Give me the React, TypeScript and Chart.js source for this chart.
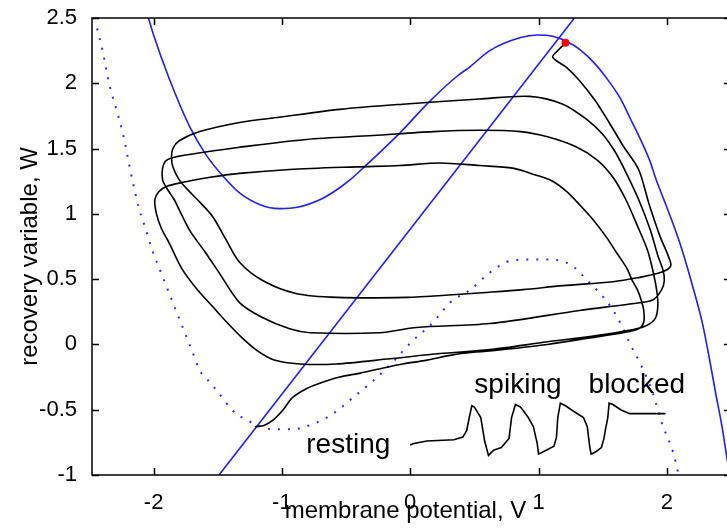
import React, { useEffect, useRef } from 'react';
import { Chart, registerables } from 'chart.js';

Chart.register(...registerables);

// ---- axis ticks ----
const xTicks = [-2, -1, 0, 1, 2];
const xTickLabels = ['-2', '-1', '0', '1', '2'];
const yTicks = [-1, -0.5, 0, 0.5, 1, 1.5, 2, 2.5];
const yTickLabels = ['-1', '-0.5', '0', '0.5', '1', '1.5', '2', '2.5'];

// ---- V-nullcline with stimulus (solid blue cubic), [V, W] ----
const vNullclineStim: [number, number][] = [
  [-2.04, 2.5], [-2.0, 2.37], [-1.88, 2.04], [-1.72, 1.67], [-1.59, 1.45], [-1.46, 1.29],
  [-1.33, 1.16], [-1.17, 1.07], [-1.02, 1.04], [-0.88, 1.05], [-0.68, 1.12], [-0.55, 1.2],
  [-0.47, 1.26], [-0.39, 1.33], [-0.08, 1.62], [0.14, 1.85], [0.36, 2.05], [0.47, 2.13],
  [0.62, 2.25], [0.86, 2.35], [0.99, 2.37], [1.11, 2.36], [1.22, 2.32], [1.32, 2.26],
  [1.43, 2.16], [1.53, 2.04], [1.64, 1.88], [1.71, 1.74], [1.79, 1.58], [1.87, 1.4],
  [1.91, 1.28], [2.0, 1.05], [2.1, 0.78], [2.2, 0.45], [2.28, 0.15], [2.33, -0.1],
  [2.38, -0.37], [2.43, -0.63], [2.47, -0.88], [2.49, -1.0],
];

// ---- W-nullcline (straight blue line) ----
const wNullcline: [number, number][] = [[-1.49, -1.0], [1.28, 2.5]];

// ---- V-nullcline without stimulus (dotted blue cubic) ----
const vNullclineRest: [number, number][] = [
  [-2.44, 2.42], [-2.4, 2.26], [-2.34, 1.97], [-2.29, 1.8], [-2.24, 1.62], [-2.17, 1.28],
  [-2.11, 1.03], [-2.06, 0.88], [-2.01, 0.72], [-1.93, 0.52], [-1.85, 0.32], [-1.74, 0.05],
  [-1.7, -0.05], [-1.64, -0.2], [-1.58, -0.27], [-1.51, -0.35], [-1.38, -0.51], [-1.29, -0.57],
  [-1.07, -0.65], [-0.92, -0.65], [-0.76, -0.61], [-0.6, -0.53], [-0.45, -0.41], [-0.29, -0.28],
  [-0.14, -0.14], [0.01, 0.02], [0.17, 0.16], [0.31, 0.32], [0.47, 0.42], [0.62, 0.55],
  [0.78, 0.64], [0.93, 0.65], [1.09, 0.65], [1.25, 0.61], [1.4, 0.47], [1.54, 0.32],
  [1.64, 0.16], [1.71, 0.01], [1.79, -0.14], [1.89, -0.37], [1.96, -0.6], [2.05, -0.83],
  [2.09, -0.99],
];

// ---- trajectory: resting -> spiking loops -> blocked ----
const trajectory: [number, number][] = [
  [-1.21, -0.63], [-1.14, -0.62], [-1.07, -0.58], [-0.99, -0.5], [-0.92, -0.41], [-0.81, -0.34],
  [-0.71, -0.3], [-0.55, -0.25], [-0.39, -0.22], [-0.21, -0.18], [-0.06, -0.15], [0.13, -0.12],
  [0.33, -0.08], [0.49, -0.06], [0.62, -0.05], [1.07, 0.0], [1.4, 0.05], [1.66, 0.09],
  [1.78, 0.12], [1.82, 0.17],
  [1.82, 0.26], [1.8, 0.34], [1.77, 0.42], [1.73, 0.49], [1.69, 0.58], [1.61, 0.7],
  [1.53, 0.82], [1.43, 0.95], [1.32, 1.07], [1.22, 1.17], [1.11, 1.25], [0.97, 1.3], [0.8, 1.35],
  [0.54, 1.37], [0.23, 1.39], [-0.08, 1.37], [-0.42, 1.36], [-0.94, 1.34], [-1.33, 1.31],
  [-1.56, 1.28], [-1.78, 1.24], [-1.9, 1.21], [-1.96, 1.17],
  [-1.99, 1.11], [-1.98, 1.01], [-1.94, 0.89], [-1.88, 0.78], [-1.78, 0.58], [-1.66, 0.42],
  [-1.54, 0.29], [-1.42, 0.16], [-1.31, 0.05], [-1.19, -0.05], [-1.06, -0.12], [-0.86, -0.15],
  [-0.58, -0.15], [-0.16, -0.11], [0.23, -0.07], [0.62, -0.04], [1.07, 0.02], [1.4, 0.06],
  [1.66, 0.1], [1.83, 0.14], [1.91, 0.2], [1.93, 0.3],
  [1.92, 0.42], [1.89, 0.57], [1.85, 0.72], [1.77, 0.91], [1.68, 1.11], [1.58, 1.28],
  [1.46, 1.41], [1.3, 1.51], [1.07, 1.59], [0.86, 1.63],
  [0.54, 1.64], [0.18, 1.63], [-0.29, 1.6], [-0.81, 1.57], [-1.33, 1.51], [-1.62, 1.47],
  [-1.81, 1.44], [-1.9, 1.41],
  [-1.93, 1.35], [-1.93, 1.26], [-1.9, 1.2], [-1.84, 1.11], [-1.78, 0.99], [-1.71, 0.86],
  [-1.6, 0.71], [-1.49, 0.55], [-1.33, 0.32], [-1.16, 0.21], [-0.94, 0.12], [-0.78, 0.09],
  [-0.24, 0.09], [0.05, 0.13], [0.62, 0.16], [1.32, 0.26], [1.71, 0.31], [1.89, 0.34],
  [1.96, 0.42], [1.98, 0.49],
  [1.97, 0.57], [1.93, 0.68], [1.87, 0.88], [1.78, 1.11], [1.68, 1.32], [1.6, 1.47],
  [1.5, 1.61], [1.38, 1.72], [1.19, 1.84], [0.93, 1.9],
  [0.54, 1.88], [-0.06, 1.84], [-0.55, 1.8], [-1.02, 1.74], [-1.33, 1.7], [-1.64, 1.63],
  [-1.8, 1.56], [-1.85, 1.5],
  [-1.86, 1.43], [-1.85, 1.36], [-1.8, 1.26], [-1.72, 1.17], [-1.64, 1.09], [-1.54, 0.98],
  [-1.44, 0.81], [-1.33, 0.63], [-1.15, 0.49], [-0.89, 0.39], [-0.57, 0.36],
  [-0.03, 0.36], [0.33, 0.38], [0.62, 0.4], [0.88, 0.42], [1.19, 0.45], [1.58, 0.48],
  [1.77, 0.51], [1.95, 0.55], [2.03, 0.6],
  [2.01, 0.68], [1.95, 0.82], [1.86, 1.08], [1.78, 1.34], [1.66, 1.52], [1.55, 1.7],
  [1.44, 1.87], [1.32, 2.02], [1.22, 2.12], [1.11, 2.2], [1.16, 2.26], [1.21, 2.31],
];

// ---- blocked fixed point ----
const blockedPoint: [number, number][] = [[1.21, 2.31]];

// ---- inset voltage trace ----
const insetTrace: [number, number][] = [
  [0.0, -0.77], [0.02, -0.76], [0.13, -0.74], [0.34, -0.73], [0.41, -0.71], [0.44, -0.66],
  [0.46, -0.56], [0.48, -0.47], [0.5, -0.48], [0.55, -0.56], [0.58, -0.74], [0.61, -0.85],
  [0.65, -0.81], [0.71, -0.79], [0.77, -0.72], [0.79, -0.56], [0.82, -0.46], [0.86, -0.48],
  [0.92, -0.56], [0.96, -0.63], [0.99, -0.76], [1.0, -0.84], [1.06, -0.81], [1.12, -0.78],
  [1.14, -0.71], [1.15, -0.56], [1.17, -0.45], [1.21, -0.47], [1.27, -0.51], [1.35, -0.56],
  [1.38, -0.63], [1.4, -0.79], [1.41, -0.84], [1.45, -0.82], [1.49, -0.79], [1.51, -0.72],
  [1.52, -0.66], [1.54, -0.56], [1.55, -0.45], [1.58, -0.46], [1.64, -0.5], [1.71, -0.53],
  [1.99, -0.53],
];

// ---- text annotations ----
const annotationText = ['resting', 'spiking', 'blocked'];
const annotationV = [-0.81, 0.5, 1.39];
const annotationW = [-0.83, -0.375, -0.375];

const xTitle = 'membrane potential, V';
const yTitle = 'recovery variable, W';

const FONT = '"Liberation Sans", Arial, Helvetica, sans-serif';

const toXY = (pts: [number, number][]) => pts.map(([x, y]) => ({ x, y }));

const framePlugin = {
  id: 'frame',
  afterDatasetsDraw(chart: any) {
    const { ctx, chartArea: a, scales } = chart;
    const xs = scales.x;
    const ys = scales.y;
    ctx.save();
    ctx.strokeStyle = '#000';
    ctx.lineWidth = 1.5;
    ctx.strokeRect(a.left, a.top, a.right - a.left, a.bottom - a.top);
    const tl = 7;
    ctx.beginPath();
    for (const v of xTicks) {
      const p = Math.round(xs.getPixelForValue(v)) + 0.5;
      ctx.moveTo(p, a.bottom);
      ctx.lineTo(p, a.bottom - tl);
      ctx.moveTo(p, a.top);
      ctx.lineTo(p, a.top + tl);
    }
    for (const v of yTicks) {
      const p = Math.round(ys.getPixelForValue(v)) + 0.5;
      ctx.moveTo(a.left, p);
      ctx.lineTo(a.left + tl, p);
      ctx.moveTo(a.right, p);
      ctx.lineTo(a.right - tl, p);
    }
    ctx.stroke();

    ctx.fillStyle = '#000';
    ctx.textAlign = 'left';
    ctx.textBaseline = 'alphabetic';
    ctx.font = `28px ${FONT}`;
    annotationText.forEach((t, i) => {
      ctx.fillText(t, xs.getPixelForValue(annotationV[i]), ys.getPixelForValue(annotationW[i]));
    });

    ctx.font = `24px ${FONT}`;
    ctx.textAlign = 'center';
    ctx.fillText(xTitle, (a.left + a.right) / 2 - 6, a.bottom + 43);

    ctx.translate(37, (a.top + a.bottom) / 2 + 10);
    ctx.rotate(-Math.PI / 2);
    ctx.fillText(yTitle, 0, 0);
    ctx.restore();
  },
};

export default function App() {
  const ref = useRef<HTMLCanvasElement | null>(null);

  useEffect(() => {
    if (!ref.current) return;
    const chart = new Chart(ref.current, {
      type: 'scatter',
      data: {
        datasets: [
          {
            data: toXY(blockedPoint),
            showLine: false,
            pointRadius: 4,
            pointBackgroundColor: '#ff0000',
            pointBorderColor: '#ff0000',
            pointBorderWidth: 0,
            order: 0,
          },
          {
            data: toXY(trajectory),
            showLine: true,
            borderColor: '#000',
            borderWidth: 1.6,
            pointRadius: 0,
            tension: 0.3,
            order: 1,
          },
          {
            data: toXY(insetTrace),
            showLine: true,
            borderColor: '#000',
            borderWidth: 1.6,
            pointRadius: 0,
            tension: 0,
            order: 1,
          },
          {
            data: toXY(vNullclineStim),
            showLine: true,
            borderColor: '#1e1eff',
            borderWidth: 1.6,
            pointRadius: 0,
            cubicInterpolationMode: 'monotone',
            order: 2,
          },
          {
            data: toXY(wNullcline),
            showLine: true,
            borderColor: '#1e1eff',
            borderWidth: 1.6,
            pointRadius: 0,
            tension: 0,
            order: 2,
          },
          {
            data: toXY(vNullclineRest),
            showLine: true,
            borderColor: '#2a2aff',
            borderWidth: 2,
            borderDash: [2, 8],
            pointRadius: 0,
            cubicInterpolationMode: 'monotone',
            order: 3,
          },
        ],
      },
      options: {
        animation: false,
        responsive: false,
        maintainAspectRatio: false,
        events: [],
        layout: { padding: { top: 18, right: 4, left: 0, bottom: 0 } },
        plugins: { legend: { display: false }, tooltip: { enabled: false } },
        scales: {
          x: {
            type: 'linear',
            min: -2.48,
            max: 2.5,
            afterBuildTicks: (s: any) => {
              s.ticks = xTicks.map((v) => ({ value: v }));
            },
            afterFit: (s: any) => {
              s.height = 55;
              s.paddingLeft = 0;
              s.paddingRight = 0;
            },
            grid: { display: false, drawTicks: false },
            border: { display: false },
            ticks: {
              color: '#000',
              padding: 15,
              maxRotation: 0,
              font: { family: FONT, size: 22 },
              callback: (_v: any, i: number) => xTickLabels[i],
            },
          },
          y: {
            type: 'linear',
            min: -1,
            max: 2.5,
            afterBuildTicks: (s: any) => {
              s.ticks = yTicks.map((v) => ({ value: v }));
            },
            afterFit: (s: any) => {
              s.width = 92;
              s.paddingTop = 0;
              s.paddingBottom = 0;
            },
            grid: { display: false, drawTicks: false },
            border: { display: false },
            ticks: {
              color: '#000',
              padding: 15,
              font: { family: FONT, size: 22 },
              callback: (_v: any, i: number) => yTickLabels[i],
            },
          },
        },
      },
      plugins: [framePlugin],
    } as any);
    return () => chart.destroy();
  }, []);

  return (
    <div
      style={{
        position: 'fixed',
        left: 0,
        top: 0,
        width: 727,
        height: 530,
        overflow: 'hidden',
        background: '#fff',
      }}
    >
      <canvas ref={ref} width={735} height={530} style={{ display: 'block', width: 735, height: 530 }} />
    </div>
  );
}
